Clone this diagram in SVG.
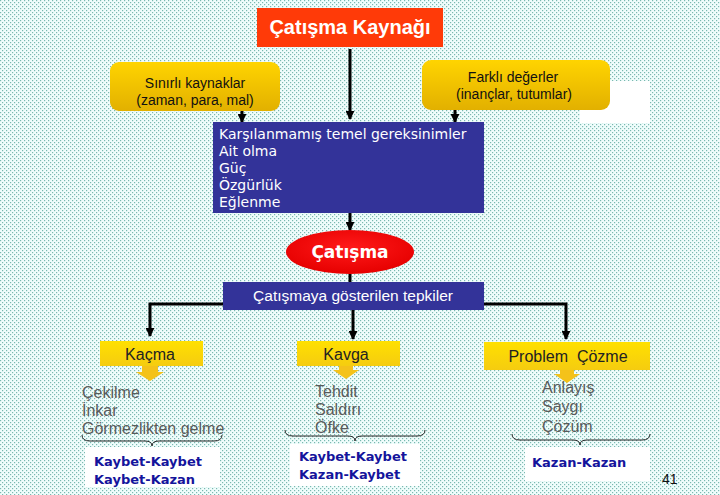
<svg xmlns="http://www.w3.org/2000/svg" width="720" height="495" viewBox="0 0 720 495">
<defs>
<pattern id="bg" width="4" height="4" patternUnits="userSpaceOnUse">
<rect width="4" height="4" fill="#f0fdfc"/>
<rect x="0" y="0" width="1.2" height="1.2" fill="#7ab8b0"/>
<rect x="2" y="2" width="1.2" height="1.2" fill="#7ab8b0"/>
</pattern>
<linearGradient id="yel" x1="0" y1="0" x2="0" y2="1">
<stop offset="0" stop-color="#ffd400"/>
<stop offset="1" stop-color="#e2b000"/>
</linearGradient>
<linearGradient id="yel2" x1="0" y1="0" x2="0" y2="1">
<stop offset="0" stop-color="#ffe000"/>
<stop offset="1" stop-color="#f5cc10"/>
</linearGradient>
<radialGradient id="red" cx="0.5" cy="0.4" r="0.6">
<stop offset="0" stop-color="#ff1a1a"/>
<stop offset="1" stop-color="#e60000"/>
</radialGradient>
<marker id="ah" viewBox="0 0 10 10" refX="9" refY="5" markerWidth="3" markerHeight="3" orient="auto">
<path d="M0,0 L10,5 L0,10 Z" fill="#000"/>
</marker>
<style>
.ln{stroke:#000;stroke-width:3;fill:none}
.ar{stroke:#000;stroke-width:3;fill:none;marker-end:url(#ah)}
.tw{font-family:"Liberation Sans",Arial,sans-serif;fill:#111;font-size:14px;text-anchor:middle}
.tb{font-family:"DejaVu Sans",Verdana,sans-serif;fill:#fff;font-size:14px}
.it{font-family:"Liberation Sans",Arial,sans-serif;fill:#5a5a5a;font-size:16px}
.wk{font-family:"DejaVu Sans",Verdana,sans-serif;font-weight:bold;fill:#14149c;font-size:13px}
.br{stroke:#222;stroke-width:1;fill:none}
.ya{fill:#f4c21a}
</style>
</defs>
<rect width="720" height="495" fill="url(#bg)"/>

<g id="connectors">
<line class="ar" x1="350" y1="49" x2="350" y2="119"/>
<line class="ar" x1="242" y1="110" x2="242" y2="122"/>
<line class="ar" x1="455" y1="110" x2="455" y2="122"/>
<line class="ar" x1="350" y1="213" x2="350" y2="230"/>
<line class="ln" x1="350" y1="274" x2="350" y2="283"/>
<polyline class="ar" points="224,304 150,304 150,336"/>
<line class="ar" x1="353" y1="310" x2="353" y2="339"/>
<polyline class="ar" points="484,304 566,304 566,339"/>
</g>

<g id="title">
<rect x="257" y="8" width="186" height="39" fill="#ff3a08"/>
<text x="350" y="34" font-family="'Liberation Sans',Arial,sans-serif" font-weight="bold" font-size="20" fill="#fff" text-anchor="middle">Çatışma Kaynağı</text>
</g>

<g id="sinirli">
<rect x="110" y="62" width="170" height="49" rx="9" fill="url(#yel)"/>
<text class="tw" x="195" y="88">Sınırlı kaynaklar</text>
<text class="tw" x="195" y="105">(zaman, para, mal)</text>
</g>

<g id="farkli">
<rect x="580" y="81" width="70" height="42" fill="#fff"/>
<rect x="422" y="60" width="188" height="50" rx="9" fill="url(#yel)"/>
<text class="tw" x="513" y="82">Farklı değerler</text>
<text class="tw" x="514" y="99">(inançlar, tutumlar)</text>
</g>

<g id="ihtiyaclar">
<rect x="213" y="122" width="271" height="91" fill="#333399"/>
<text class="tb" x="219" y="139">Karşılanmamış temel gereksinimler</text>
<text class="tb" x="219" y="156">Ait olma</text>
<text class="tb" x="219" y="173">Güç</text>
<text class="tb" x="219" y="190">Özgürlük</text>
<text class="tb" x="219" y="207">Eğlenme</text>
</g>

<g id="catisma">
<ellipse cx="350" cy="252" rx="64" ry="22" fill="url(#red)"/>
<text x="350" y="258" font-family="'DejaVu Sans',Verdana,sans-serif" font-weight="bold" font-size="17" fill="#fff" text-anchor="middle">Çatışma</text>
</g>

<g id="tepkiler">
<rect x="223" y="282" width="261" height="28" fill="#333399"/>
<text x="353" y="301" font-family="'Liberation Sans',Arial,sans-serif" font-size="15.5" fill="#fff" text-anchor="middle">Çatışmaya gösterilen tepkiler</text>
</g>

<g id="kacma">
<rect x="100" y="341" width="103" height="25" fill="url(#yel2)"/>
<text x="150" y="360" font-family="'Liberation Sans',Arial,sans-serif" font-size="16" fill="#222" text-anchor="middle">Kaçma</text>
<path class="ya" d="M142,366 H158 V372 H164 L150,381 L136,372 H142 Z"/>
<text class="it" x="82" y="398">Çekilme</text>
<text class="it" x="82" y="416">İnkar</text>
<text class="it" x="82" y="434">Görmezlikten gelme</text>
<path class="br" d="M82,435 Q82,441 90,441 H145 Q152,441 152,446 Q152,441 159,441 H214 Q222,441 222,435"/>
<rect x="85" y="447" width="135" height="40" fill="#fff"/>
<text class="wk" x="94" y="466">Kaybet-Kaybet</text>
<text class="wk" x="94" y="484">Kaybet-Kazan</text>
</g>

<g id="kavga">
<rect x="297" y="341" width="103" height="25" fill="url(#yel2)"/>
<text x="346" y="360" font-family="'Liberation Sans',Arial,sans-serif" font-size="16" fill="#222" text-anchor="middle">Kavga</text>
<path class="ya" d="M339,366 H353 V370 H359 L346,379 L333,370 H339 Z"/>
<text class="it" x="315" y="397">Tehdit</text>
<text class="it" x="315" y="415">Saldırı</text>
<text class="it" x="315" y="433">Öfke</text>
<path class="br" d="M285,430 Q285,436 293,436 H348 Q355,436 355,441 Q355,436 362,436 H417 Q425,436 425,430"/>
<rect x="290" y="444" width="130" height="42" fill="#fff"/>
<text class="wk" x="299" y="461">Kaybet-Kaybet</text>
<text class="wk" x="299" y="479">Kazan-Kaybet</text>
</g>

<g id="problem">
<rect x="484" y="342" width="166" height="28" fill="url(#yel2)"/>
<text x="568" y="362" font-family="'Liberation Sans',Arial,sans-serif" font-size="16" fill="#222" text-anchor="middle" style="white-space:pre">Problem  Çözme</text>
<path class="ya" d="M560,370 H574 V374 H580 L567,383 L554,374 H560 Z"/>
<text class="it" x="542" y="393">Anlayış</text>
<text class="it" x="542" y="412">Saygı</text>
<text class="it" x="542" y="432">Çözüm</text>
<path class="br" d="M512,434 Q512,440 520,440 H573 Q580,440 580,445 Q580,440 587,440 H642 Q650,440 650,434"/>
<rect x="525" y="447" width="125" height="34" fill="#fff"/>
<text class="wk" x="532" y="467">Kazan-Kazan</text>
</g>

<g id="page">
<text x="662" y="484" font-family="'Liberation Sans',Arial,sans-serif" font-size="14" fill="#111">41</text>
</g>
</svg>
